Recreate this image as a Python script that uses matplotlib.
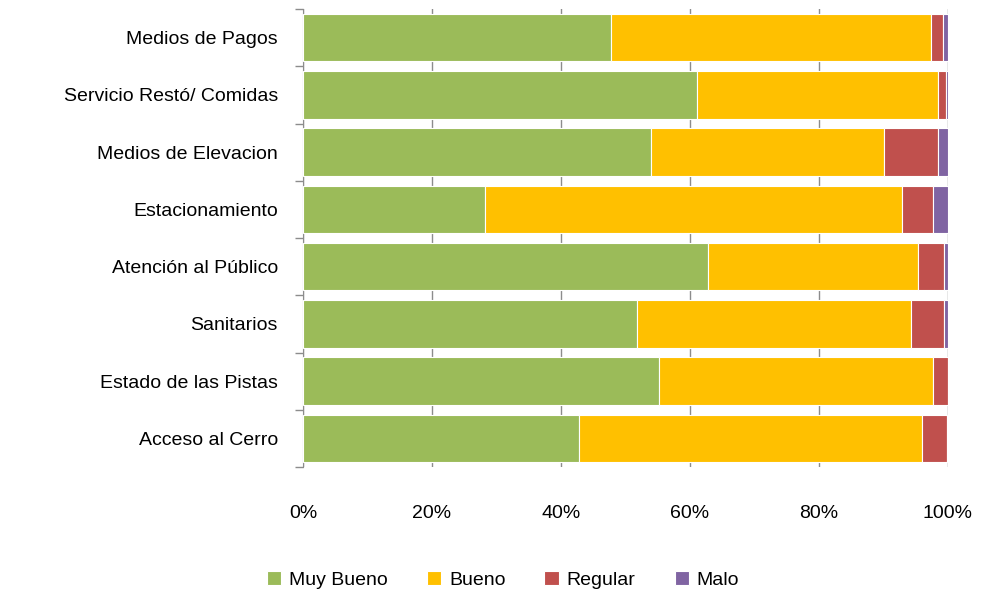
import matplotlib.pyplot as plt
import numpy as np

plt.rcParams['font.family'] = ['Liberation Sans', 'DejaVu Sans']

# categorias (de arriba hacia abajo)
categorias = ['Medios de Pagos', 'Servicio Restó/ Comidas', 'Medios de Elevacion',
              'Estacionamiento', 'Atención al Público', 'Sanitarios',
              'Estado de las Pistas', 'Acceso al Cerro']

# porcentajes por calificacion
muy_bueno = [47.8, 61.1, 54.0, 28.2, 62.8, 51.8, 55.2, 42.8]
bueno = [49.5, 37.3, 36.1, 64.7, 32.6, 42.4, 42.4, 53.2]
regular = [2.0, 1.3, 8.3, 4.7, 4.0, 5.2, 2.4, 3.8]
malo = [0.7, 0.3, 1.6, 2.4, 0.6, 0.6, 0.0, 0.2]

series = [muy_bueno, bueno, regular, malo]
nombres = ['Muy Bueno', 'Bueno', 'Regular', 'Malo']
colores = ['#9BBB59', '#FFC000', '#C0504D', '#8064A2']

fs = 14

fig = plt.figure(figsize=(9.95, 5.96), dpi=100)
ax = fig.add_axes([303/995, 1 - 467/596, 645/995, 458/596])

y = np.arange(len(categorias))[::-1]
izq = np.zeros(len(categorias))
for vals, nom, col in zip(series, nombres, colores):
    vals = np.array(vals)
    ax.barh(y, vals, left=izq, height=0.83, color=col, edgecolor='white',
            linewidth=0.8, label=nom, zorder=3)
    izq += vals

ax.set_xlim(0, 100)
ax.set_ylim(-0.5, len(categorias) - 0.5)
ax.set_xticks([0, 20, 40, 60, 80, 100])
ax.set_xticklabels(['0%', '20%', '40%', '60%', '80%', '100%'], fontsize=fs)
ax.tick_params(axis='x', length=0, pad=27)
ax.xaxis.grid(True, color='#8c8c8c', linewidth=1, zorder=0)

ax.set_yticks(y)
ax.set_yticklabels(categorias, fontsize=fs)
ax.tick_params(axis='y', which='major', length=0, pad=18)
ax.set_yticks(np.arange(len(categorias) + 1) - 0.5, minor=True)
ax.tick_params(axis='y', which='minor', length=6, color='#8c8c8c', width=1)

for s in ['top', 'right', 'bottom']:
    ax.spines[s].set_visible(False)
ax.spines['left'].set_color('#8c8c8c')

fig.legend(loc='center', bbox_to_anchor=(503/995, 1 - 580/596), ncol=4,
           frameon=False, fontsize=fs, handlelength=0.75, handleheight=0.75,
           handletextpad=0.4, columnspacing=2.0)

plt.savefig('out.png', dpi=100)
